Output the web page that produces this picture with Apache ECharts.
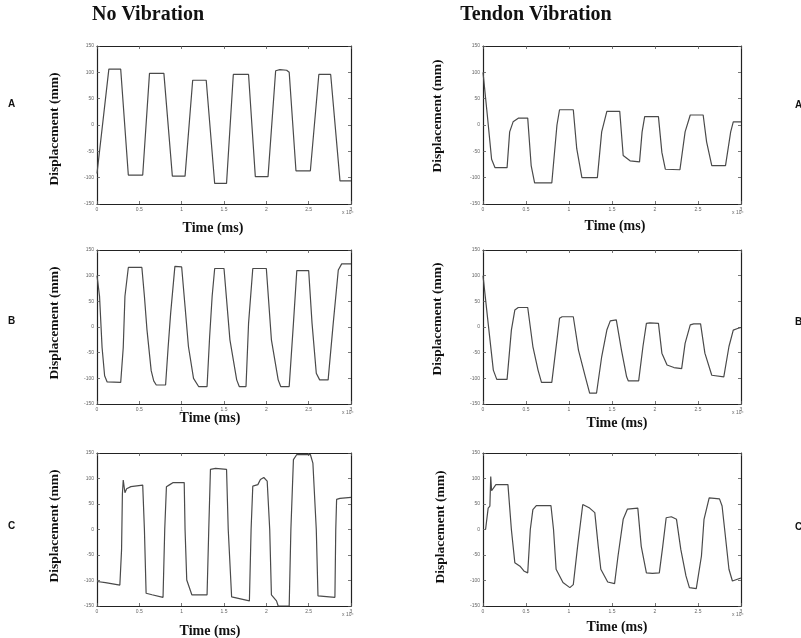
<!DOCTYPE html>
<html>
<head>
<meta charset="utf-8">
<script src="https://cdn.jsdelivr.net/npm/echarts@6/dist/echarts.min.js"></script>
<style>
  html, body { margin: 0; padding: 0; background: #fff; }
  #main { width: 801px; height: 638px; }
</style>
</head>
<body>
<div id="main"></div>
<script>
// column titles and row letters
const columnTitles = ['No Vibration', 'Tendon Vibration']
const rowLetters = ['A', 'B', 'C']

// axis ranges (time in units of 10^4, displacement in mm)
const xTicks = [0, 0.5, 1, 1.5, 2, 2.5, 3]
const yTicks = [-150, -100, -50, 0, 50, 100, 150]

// No Vibration, panel A
const noVibA = [[0,-92],[0.02,-92],[0.14,106],[0.28,106],[0.37,-95],[0.54,-95],[0.62,98],[0.79,98],
  [0.89,-97],[1.04,-97],[1.13,85],[1.29,85],[1.39,-111],[1.53,-111],[1.61,96],[1.79,96],[1.87,-98],
  [2.02,-98],[2.11,103],[2.16,105],[2.24,104],[2.27,100],[2.35,-87],[2.52,-87],[2.62,96],[2.76,96],
  [2.87,-106],[3.0,-106]]

// No Vibration, panel B
const noVibB = [[0,100],[0.02,100],[0.03,60],[0.06,-40],[0.09,-95],[0.12,-107],[0.28,-108],[0.31,-40],
  [0.33,60],[0.37,116],[0.53,116],[0.56,60],[0.59,-5],[0.64,-85],[0.67,-105],[0.70,-113],[0.81,-113],
  [0.84,-40],[0.87,27],[0.92,118],[1.0,117],[1.04,40],[1.08,-38],[1.14,-100],[1.20,-116],[1.30,-116],
  [1.33,-20],[1.36,60],[1.39,114],[1.50,114],[1.57,-25],[1.65,-103],[1.68,-116],[1.76,-116],[1.79,7],
  [1.84,114],[2.0,114],[2.06,-25],[2.14,-103],[2.17,-116],[2.27,-116],[2.32,7],[2.36,110],[2.50,110],
  [2.54,7],[2.59,-90],[2.63,-103],[2.73,-103],[2.79,7],[2.85,111],[2.89,123],[3.0,123]]

// No Vibration, panel C
const noVibC = [[0,-102],[0.1,-104],[0.27,-109],[0.29,-40],[0.30,70],[0.31,97],[0.32,96],[0.33,72],
  [0.35,80],[0.40,84],[0.54,87],[0.56,0],[0.58,-125],[0.65,-128],[0.78,-133],[0.80,0],[0.82,84],
  [0.86,88],[0.90,92],[1.03,92],[1.04,0],[1.06,-99],[1.12,-128],[1.30,-128],[1.32,0],[1.34,118],
  [1.40,120],[1.53,118],[1.55,0],[1.59,-132],[1.80,-140],[1.82,0],[1.84,85],[1.90,88],[1.93,98],
  [1.97,102],[2.01,95],[2.04,0],[2.06,-128],[2.12,-140],[2.14,-150],[2.27,-150],[2.29,0],[2.32,137],
  [2.36,147],[2.52,147],[2.55,130],[2.57,127],[2.59,0],[2.61,-130],[2.81,-133],[2.82,0],[2.83,59],
  [2.87,61],[3.0,63]]

// Tendon Vibration, panel A
const tendonA = [[0,100],[0.02,100],[0.05,19],[0.10,-65],[0.14,-81],[0.28,-81],[0.31,-13],[0.35,6],
  [0.41,13],[0.52,13],[0.56,-77],[0.60,-110],[0.80,-110],[0.86,0],[0.89,29],[1.05,29],[1.09,-45],
  [1.15,-100],[1.33,-100],[1.38,-13],[1.44,26],[1.59,26],[1.63,-58],[1.71,-68],[1.82,-70],[1.85,-13],
  [1.88,16],[2.04,16],[2.08,-52],[2.12,-84],[2.29,-85],[2.35,-13],[2.41,19],[2.56,19],[2.60,-32],
  [2.66,-77],[2.82,-77],[2.88,-13],[2.91,6],[3.0,6]]

// Tendon Vibration, panel B
const tendonB = [[0,100],[0.02,100],[0.06,7],[0.12,-84],[0.16,-102],[0.28,-102],[0.33,-6],[0.37,33],
  [0.41,38],[0.52,38],[0.58,-38],[0.64,-84],[0.68,-108],[0.80,-108],[0.86,-25],[0.89,17],[0.92,20],
  [1.05,20],[1.11,-45],[1.19,-97],[1.24,-129],[1.32,-129],[1.38,-58],[1.44,-6],[1.48,12],[1.55,14],
  [1.61,-45],[1.67,-97],[1.69,-105],[1.81,-105],[1.86,-38],[1.90,7],[1.94,8],[2.04,7],[2.08,-51],
  [2.14,-74],[2.22,-79],[2.31,-81],[2.35,-32],[2.41,4],[2.45,6],[2.53,6],[2.58,-51],[2.66,-94],
  [2.80,-97],[2.86,-38],[2.91,-6],[2.96,-3],[3.0,-1]]

// Tendon Vibration, panel C
const tendonC = [[0.03,0],[0.06,42],[0.08,46],[0.09,104],[0.10,76],[0.12,75],[0.15,88],[0.29,88],
  [0.33,0],[0.37,-65],[0.43,-72],[0.48,-82],[0.52,-85],[0.55,0],[0.58,39],[0.62,47],[0.79,47],
  [0.82,0],[0.85,-78],[0.93,-104],[1.01,-114],[1.05,-108],[1.10,-33],[1.16,49],[1.24,42],[1.30,33],
  [1.34,-33],[1.37,-78],[1.45,-103],[1.53,-106],[1.57,-52],[1.63,20],[1.68,40],[1.80,42],[1.84,-33],
  [1.90,-85],[1.97,-86],[2.05,-85],[2.09,-33],[2.13,23],[2.19,25],[2.25,20],[2.30,-39],[2.36,-91],
  [2.40,-114],[2.48,-116],[2.54,-52],[2.57,20],[2.63,62],[2.75,60],[2.78,46],[2.81,0],[2.86,-78],
  [2.90,-101],[3.0,-95]]

const panels = [
  { data: noVibA, left: 97, top: 46, width: 254, height: 158, col: 0, row: 0 },
  { data: tendonA, left: 483, top: 46, width: 258, height: 158, col: 1, row: 0 },
  { data: noVibB, left: 97, top: 250, width: 254, height: 154, col: 0, row: 1 },
  { data: tendonB, left: 483, top: 250, width: 258, height: 154, col: 1, row: 1 },
  { data: noVibC, left: 97, top: 453, width: 254, height: 153, col: 0, row: 2 },
  { data: tendonC, left: 483, top: 453, width: 258, height: 153, col: 1, row: 2 }
]

// label positions (centres)
const yNamePos = [[55, 129], [438, 116], [55, 323], [438, 319], [55, 526], [441, 527]]
const xNamePos = [[213, 228], [615, 226], [210, 418], [617, 423], [210, 631], [617, 627]]

const myChart = echarts.init(document.getElementById('main'))

const serif = 'Liberation Serif'
const lineColor = '#222'
const grids = []
const xAxes = []
const yAxes = []
const series = []
const graphic = []

panels.forEach(function (p, i) {
  grids.push({ left: p.left, top: p.top, width: p.width, height: p.height })
  const axisBase = {
    gridIndex: i,
    type: 'value',
    axisLine: { show: true, onZero: false, lineStyle: { color: lineColor, width: 1.2 } },
    axisTick: { show: true, inside: true, length: 3, lineStyle: { color: '#555', width: 0.8 } },
    splitLine: { show: false }
  }
  const labelStyle = { fontSize: 5, color: '#666', fontFamily: 'Liberation Sans' }
  xAxes.push(Object.assign({}, axisBase, {
    position: 'bottom', min: xTicks[0], max: xTicks[xTicks.length - 1], interval: 0.5,
    axisLabel: Object.assign({ margin: 3 }, labelStyle)
  }))
  xAxes.push(Object.assign({}, axisBase, {
    position: 'top', min: xTicks[0], max: xTicks[xTicks.length - 1], interval: 0.5,
    axisLabel: { show: false }
  }))
  yAxes.push(Object.assign({}, axisBase, {
    position: 'left', min: yTicks[0], max: yTicks[yTicks.length - 1], interval: 50,
    axisLabel: Object.assign({ margin: 3 }, labelStyle)
  }))
  yAxes.push(Object.assign({}, axisBase, {
    position: 'right', min: yTicks[0], max: yTicks[yTicks.length - 1], interval: 50,
    axisLabel: { show: false }
  }))
  series.push({
    type: 'line',
    xAxisIndex: 2 * i,
    yAxisIndex: 2 * i,
    data: p.data,
    showSymbol: false,
    silent: true,
    lineStyle: { color: '#4a4a4a', width: 1.2 }
  })

  // Displacement label
  graphic.push({
    type: 'text',
    x: yNamePos[i][0], y: yNamePos[i][1], rotation: Math.PI / 2,
    style: {
      text: 'Displacement (mm)', font: 'bold 13.5px ' + serif, fill: '#111',
      align: 'center', verticalAlign: 'middle'
    }
  })
  // Time label
  graphic.push({
    type: 'text',
    x: xNamePos[i][0], y: xNamePos[i][1],
    style: {
      text: 'Time (ms)', font: 'bold 14px ' + serif, fill: '#111',
      align: 'center', verticalAlign: 'middle'
    }
  })
  // exponent
  graphic.push({
    type: 'text',
    x: p.left + p.width - 9, y: p.top + p.height + 9,
    style: { text: 'x 10⁴', font: '5px Liberation Sans', fill: '#666', align: 'left', verticalAlign: 'middle' }
  })
})

// row letters on both sides
const letterY = [104, 321, 526]
rowLetters.forEach(function (l, r) {
  graphic.push({
    type: 'text', x: 8, y: letterY[r],
    style: { text: l, font: 'bold 10px Liberation Sans', fill: '#111', verticalAlign: 'middle' }
  })
  graphic.push({
    type: 'text', x: 795, y: letterY[r] + 1,
    style: { text: l, font: 'bold 10px Liberation Sans', fill: '#111', verticalAlign: 'middle' }
  })
})

// column titles
const titleX = [148, 536]
columnTitles.forEach(function (t, c) {
  graphic.push({
    type: 'text', x: titleX[c], y: 15,
    style: { text: t, font: 'bold 20px ' + serif, fill: '#111', align: 'center', verticalAlign: 'middle' }
  })
})

const option = {
  animation: false,
  backgroundColor: '#fff',
  grid: grids,
  xAxis: xAxes,
  yAxis: yAxes,
  series: series,
  graphic: graphic
}

option && myChart.setOption(option)
</script>
</body>
</html>
